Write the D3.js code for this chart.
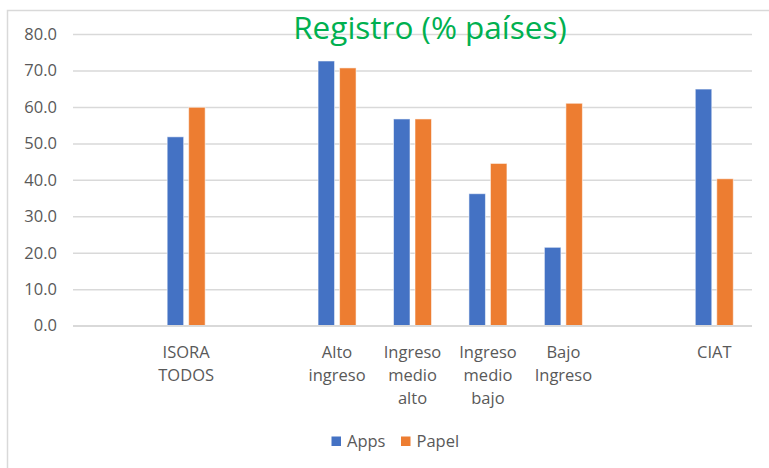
<!DOCTYPE html>
<html>
<head>
<meta charset="utf-8">
<script src="https://cdn.jsdelivr.net/npm/d3@7"></script>
<style>
  html, body { margin: 0; padding: 0; background: #fff; }
  svg { display: block; font-family: "Open Sans", sans-serif; }
</style>
</head>
<body>
<svg id="chart" width="769" height="468"></svg>
<script>
// Category labels (one entry per slot; empty slots keep the spacing between groups)
const categories = [
  [],
  ["ISORA", "TODOS"],
  [],
  ["Alto", "ingreso"],
  ["Ingreso", "medio", "alto"],
  ["Ingreso", "medio", "bajo"],
  ["Bajo", "Ingreso"],
  [],
  ["CIAT"]
];
const seriesNames = ["Apps", "Papel"];
const appsValues  = [null, 51.8, null, 72.6, 56.7, 36.2, 21.5, null, 64.9];
const papelValues = [null, 59.9, null, 70.7, 56.7, 44.5, 61.0, null, 40.3];
const yTicks = [0, 10, 20, 30, 40, 50, 60, 70, 80];
const titleText = "Registro (% países)";

const colors = { Apps: "#4472C4", Papel: "#ED7D31" };
const textGray = "#595959";
const gridGray = "#d9d9d9";

const svg = d3.select("#chart");

// Outer frame of the chart area
svg.append("rect")
  .attr("x", 7.5).attr("y", 10.5)
  .attr("width", 800).attr("height", 500)
  .attr("fill", "none").attr("stroke", gridGray).attr("stroke-width", 1.5);

const plot = { left: 73, right: 752, top: 34, bottom: 325.7 };

const x0 = d3.scaleBand()
  .domain(d3.range(categories.length))
  .range([plot.left, plot.right])
  .paddingInner(0).paddingOuter(0);

const x1 = d3.scaleBand()
  .domain(seriesNames)
  .range([-19, 19])
  .paddingInner(0.2326);

const y = d3.scaleLinear()
  .domain([0, 80])
  .range([plot.bottom, plot.top]);

// Y axis with horizontal gridlines
const yAxis = svg.append("g")
  .attr("transform", `translate(${plot.left},0)`)
  .call(d3.axisLeft(y)
    .tickValues(yTicks)
    .tickFormat(d3.format(".1f"))
    .tickSize(-(plot.right - plot.left))
    .tickPadding(16));
yAxis.select(".domain").remove();
yAxis.selectAll(".tick line")
  .attr("stroke", gridGray).attr("stroke-width", 1.5);
yAxis.selectAll(".tick text")
  .attr("fill", textGray)
  .style("font-size", "16.5px")
  .style("font-family", "'Open Sans', sans-serif");

// Bars
const rows = categories.map((c, i) => ({
  i,
  values: [
    { key: "Apps", value: appsValues[i] },
    { key: "Papel", value: papelValues[i] }
  ].filter(v => v.value !== null)
}));

const groups = svg.append("g").selectAll("g")
  .data(rows)
  .join("g")
  .attr("transform", d => `translate(${x0(d.i) + x0.bandwidth() / 2},0)`);

groups.selectAll("rect")
  .data(d => d.values)
  .join("rect")
  .attr("x", d => x1(d.key))
  .attr("width", x1.bandwidth())
  .attr("y", d => y(d.value))
  .attr("height", d => y(0) - y(d.value))
  .attr("fill", d => colors[d.key])
  .attr("stroke", "rgba(255,255,255,0.55)")
  .attr("stroke-width", 1);

// X axis labels (multi-line)
const xAxis = svg.append("g")
  .attr("transform", `translate(0,${plot.bottom})`)
  .call(d3.axisBottom(x0).tickSize(0).tickFormat(""));
xAxis.select(".domain").remove();
xAxis.selectAll(".tick").each(function(i) {
  const t = d3.select(this).append("text")
    .attr("fill", textGray)
    .attr("text-anchor", "middle")
    .style("font-size", "16.5px")
    .style("font-family", "'Open Sans', sans-serif");
  categories[i].forEach((line, k) => {
    t.append("tspan").attr("x", 0).attr("y", 32 + k * 23).text(line);
  });
});

// Baseline
svg.append("line")
  .attr("x1", plot.left).attr("x2", plot.right)
  .attr("y1", y(0)).attr("y2", y(0))
  .attr("stroke", gridGray).attr("stroke-width", 1.5);

// Title
svg.append("text")
  .attr("x", 430).attr("y", 38.5)
  .attr("text-anchor", "middle")
  .attr("fill", "#00B050")
  .style("font-size", "31.5px")
  .style("font-family", "'Open Sans', sans-serif")
  .text(titleText);

// Legend
const legend = svg.append("g").attr("transform", "translate(331.5,436.5)");
const items = [{ key: "Apps", x: 0 }, { key: "Papel", x: 69.5 }];
items.forEach(it => {
  const g = legend.append("g").attr("transform", `translate(${it.x},0)`);
  g.append("rect").attr("width", 9.5).attr("height", 9.5).attr("fill", colors[it.key]);
  g.append("text")
    .attr("x", 15.5).attr("y", 10)
    .attr("fill", textGray)
    .style("font-size", "16.5px")
    .style("font-family", "'Open Sans', sans-serif")
    .text(it.key);
});
</script>
</body>
</html>
